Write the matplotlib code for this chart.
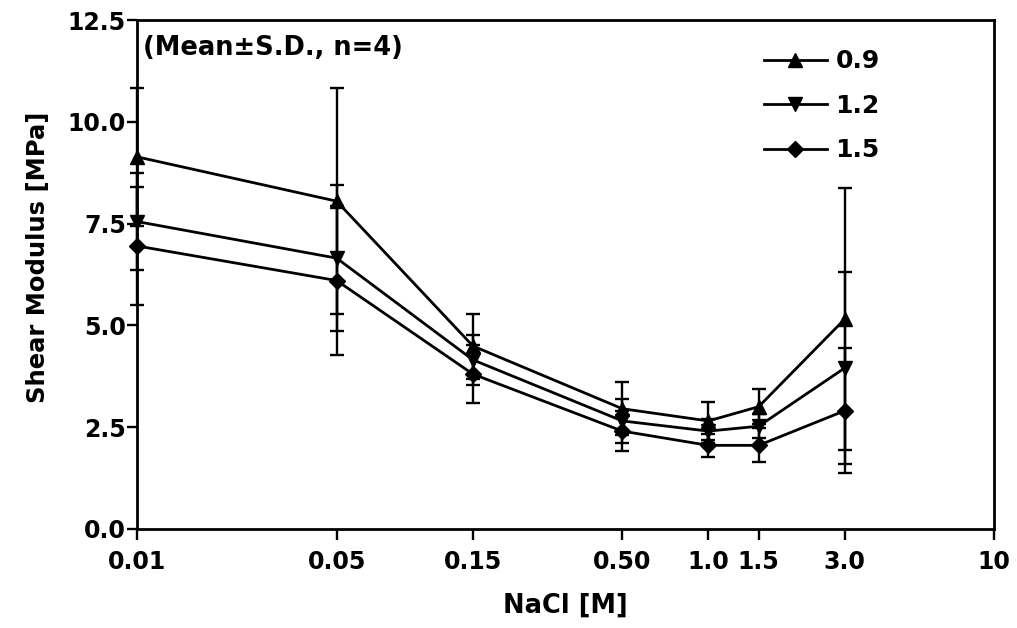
import matplotlib
matplotlib.use("Agg")
import matplotlib.pyplot as plt
from matplotlib.ticker import FixedLocator, FixedFormatter, NullLocator
from matplotlib.lines import Line2D

plt.rcParams['font.family'] = ['DejaVu Sans']
plt.rcParams['font.weight'] = 'bold'

nacl = [0.01, 0.05, 0.15, 0.50, 1.0, 1.5, 3.0]
x_tick_vals = [0.01, 0.05, 0.15, 0.50, 1.0, 1.5, 3.0, 10]
x_tick_labels = ["0.01", "0.05", "0.15", "0.50", "1.0", "1.5", "3.0", "10"]
y_tick_vals = [0.0, 2.5, 5.0, 7.5, 10.0, 12.5]

labels = ["0.9", "1.2", "1.5"]
mean_09 = [9.14, 8.05, 4.49, 2.95, 2.65, 3.00, 5.15]
sd_09 = [1.69, 2.77, 0.80, 0.65, 0.46, 0.43, 3.22]
mean_12 = [7.55, 6.65, 4.15, 2.65, 2.40, 2.52, 3.95]
sd_12 = [1.20, 1.80, 0.62, 0.54, 0.30, 0.30, 2.36]
mean_15 = [6.95, 6.10, 3.80, 2.40, 2.05, 2.05, 2.90]
sd_15 = [1.45, 1.84, 0.71, 0.49, 0.29, 0.42, 1.53]

means = [mean_09, mean_12, mean_15]
sds = [sd_09, sd_12, sd_15]
markers = ["^", "v", "D"]
msizes = [10, 10, 8.5]

fig = plt.figure(figsize=(10.17, 6.28), dpi=100)
ax = fig.add_axes([0.1347, 0.158, 0.8427, 0.81])

for m, s, mk, ms, lab in zip(means, sds, markers, msizes, labels):
    ax.errorbar(nacl, m, yerr=s, color='black', marker=mk, markersize=ms,
                linewidth=2.0, elinewidth=1.7, capsize=5, capthick=1.7,
                label=lab, clip_on=False, zorder=3)

ax.set_xscale('log')
ax.set_xlim(0.01, 10)
ax.set_ylim(0, 12.5)
ax.xaxis.set_major_locator(FixedLocator(x_tick_vals))
ax.xaxis.set_major_formatter(FixedFormatter(x_tick_labels))
ax.xaxis.set_minor_locator(NullLocator())
ax.set_yticks(y_tick_vals)
ax.set_yticklabels([f"{v:.1f}" for v in y_tick_vals])

ax.tick_params(axis='x', direction='out', length=8, width=1.7,
               labelsize=17, pad=7)
ax.tick_params(axis='y', direction='out', length=7, width=1.7,
               labelsize=17, pad=1)
for lbl in ax.get_xticklabels() + ax.get_yticklabels():
    lbl.set_fontweight('bold')
for sp in ax.spines.values():
    sp.set_linewidth(2.0)

ax.set_xlabel("NaCl [M]", fontsize=18.5, fontweight='bold', labelpad=14)
ax.set_ylabel("Shear Modulus [MPa]", fontsize=17.5, fontweight='bold')
ax.yaxis.set_label_coords(-0.1015, 0.533)

ax.text(0.007, 0.97, "(Mean\u00b1S.D., n=4)", transform=ax.transAxes,
        fontsize=18.5, fontweight='bold', va='top', ha='left')

hs = [Line2D([], [], color='black', marker=mk, markersize=ms, linewidth=2.0)
      for mk, ms in zip(markers, msizes)]
leg = ax.legend(hs, labels, loc='upper right', bbox_to_anchor=(0.884, 0.972),
                frameon=False, fontsize=18, handlelength=2.5, handletextpad=0.35,
                labelspacing=0.82, borderaxespad=0.2)
for t in leg.get_texts():
    t.set_fontweight('bold')

fig.savefig("out.png", dpi=100)
